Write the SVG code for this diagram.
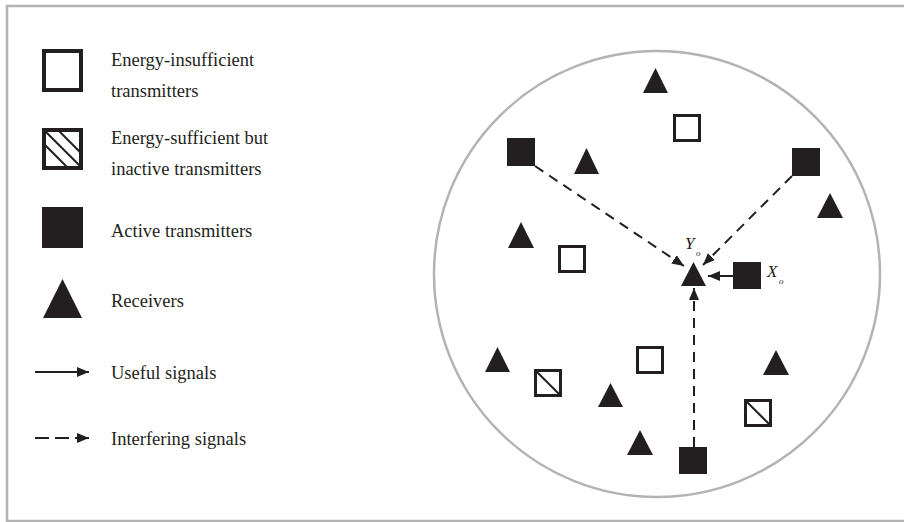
<svg xmlns="http://www.w3.org/2000/svg" width="904" height="522" viewBox="0 0 904 522">
<style>
.lbl{font-family:"Liberation Serif","Times New Roman",serif;font-size:18.5px;fill:#231f20}
.it{font-family:"Liberation Serif","Times New Roman",serif;font-style:italic;fill:#231f20}
.empty{fill:#fff;stroke:#231f20;stroke-width:3}
.act{fill:#231f20}
.rx{fill:#231f20}
.hatch{fill:none;stroke:#231f20;stroke-width:3}
.hl{stroke:#231f20;stroke-width:2}
.dash{stroke:#231f20;stroke-width:2;fill:none;stroke-dasharray:10 7}
.solid{stroke:#231f20;stroke-width:2;fill:none}
</style>
<defs>
<marker id="ah" viewBox="0 0 12 10" refX="12" refY="5" markerWidth="12" markerHeight="10" markerUnits="userSpaceOnUse" orient="auto">
<path d="M0,0 L12,5 L0,10 Z" fill="#231f20"/>
</marker>
<clipPath id="cl1"><rect x="44" y="130" width="37" height="38"/></clipPath>
<clipPath id="cl2"><rect x="536" y="371" width="24" height="24"/></clipPath>
<clipPath id="cl3"><rect x="746" y="401" width="24" height="24"/></clipPath>
</defs>
<rect x="7" y="6" width="920" height="515" fill="#fff" stroke="#b3b3b3" stroke-width="2.5"/>
<circle cx="657" cy="274" r="223" fill="none" stroke="#b3b3b3" stroke-width="2.5"/>

<g id="legend">
<g id="leg-empty">
<rect x="44" y="51" width="37" height="39" fill="#fff" stroke="#231f20" stroke-width="4"/>
<text class="lbl" x="111" y="66">Energy-insufficient</text>
<text class="lbl" x="111" y="97">transmitters</text>
</g>
<g id="leg-hatch">
<rect x="44" y="130" width="37" height="38" fill="#fff"/>
<g clip-path="url(#cl1)">
<line class="hl" x1="44" y1="130" x2="82" y2="168"/>
<line class="hl" x1="58" y1="130" x2="96" y2="168"/>
<line class="hl" x1="30" y1="130" x2="68" y2="168"/>
</g>
<rect x="44" y="130" width="37" height="38" fill="none" stroke="#231f20" stroke-width="4"/>
<text class="lbl" x="111" y="144">Energy-sufficient but</text>
<text class="lbl" x="111" y="175">inactive transmitters</text>
</g>
<g id="leg-active">
<rect class="act" x="42" y="207" width="41" height="41"/>
<text class="lbl" x="111" y="237">Active transmitters</text>
</g>
<g id="leg-rx">
<path class="rx" d="M62.5,279 L82,318 L43,318 Z"/>
<text class="lbl" x="111" y="307">Receivers</text>
</g>
<g id="leg-useful">
<line class="solid" x1="35" y1="372" x2="89" y2="372" marker-end="url(#ah)"/>
<text class="lbl" x="111" y="379">Useful signals</text>
</g>
<g id="leg-interf">
<line class="solid" x1="35" y1="438" x2="89" y2="438" stroke-dasharray="14 6" marker-end="url(#ah)"/>
<text class="lbl" x="111" y="445">Interfering signals</text>
</g>
</g>

<g id="connectors">
<line class="dash" x1="535" y1="166" x2="684" y2="266" marker-end="url(#ah)"/>
<line class="dash" x1="792" y1="176" x2="703" y2="265" marker-end="url(#ah)"/>
<line class="dash" x1="694" y1="447" x2="694" y2="288" marker-end="url(#ah)"/>
<line class="solid" x1="733" y1="276" x2="708" y2="276" marker-end="url(#ah)"/>
</g>

<g id="nodes">
<g id="rx1"><path class="rx" d="M655.5,68 L668,93 L643,93 Z"/></g>
<g id="e1"><rect class="empty" x="674.5" y="115.5" width="25" height="25"/></g>
<g id="a1"><rect class="act" x="507" y="138" width="28" height="28"/></g>
<g id="rx2"><path class="rx" d="M586.5,148 L599,174 L574,174 Z"/></g>
<g id="a2"><rect class="act" x="792" y="148" width="28" height="28"/></g>
<g id="rx3"><path class="rx" d="M830,193 L843,218 L817,218 Z"/></g>
<g id="rx4"><path class="rx" d="M521,222 L534,248 L508,248 Z"/></g>
<g id="e2"><rect class="empty" x="559.5" y="246.5" width="25" height="25"/></g>
<g id="rx0"><path class="rx" d="M693.5,262 L706,286 L681,286 Z"/>
<text class="it" x="685" y="249" font-size="17">Y</text>
<text class="it" x="696" y="256" font-size="9">o</text>
</g>
<g id="a0"><rect class="act" x="733" y="262" width="28" height="27"/>
<text class="it" x="767" y="277" font-size="17">X</text>
<text class="it" x="779" y="284" font-size="9">o</text>
</g>
<g id="rx5"><path class="rx" d="M497.5,347 L510,372 L485,372 Z"/></g>
<g id="h1">
<rect x="534.5" y="369.5" width="27" height="27" fill="#fff"/>
<g clip-path="url(#cl2)"><line class="hl" x1="536" y1="371" x2="560" y2="395"/></g>
<rect class="hatch" x="535.5" y="370.5" width="25" height="25"/>
</g>
<g id="e3"><rect class="empty" x="637.5" y="347.5" width="25" height="25"/></g>
<g id="rx6"><path class="rx" d="M610.5,383 L623,407 L598,407 Z"/></g>
<g id="rx7"><path class="rx" d="M776,350 L789,375 L763,375 Z"/></g>
<g id="h2">
<rect x="744.5" y="399.5" width="27" height="27" fill="#fff"/>
<g clip-path="url(#cl3)"><line class="hl" x1="746" y1="401" x2="770" y2="425"/></g>
<rect class="hatch" x="745.5" y="400.5" width="25" height="25"/>
</g>
<g id="rx8"><path class="rx" d="M640,430 L653,455 L627,455 Z"/></g>
<g id="a3"><rect class="act" x="679" y="447" width="28" height="27"/></g>
</g>
</svg>
